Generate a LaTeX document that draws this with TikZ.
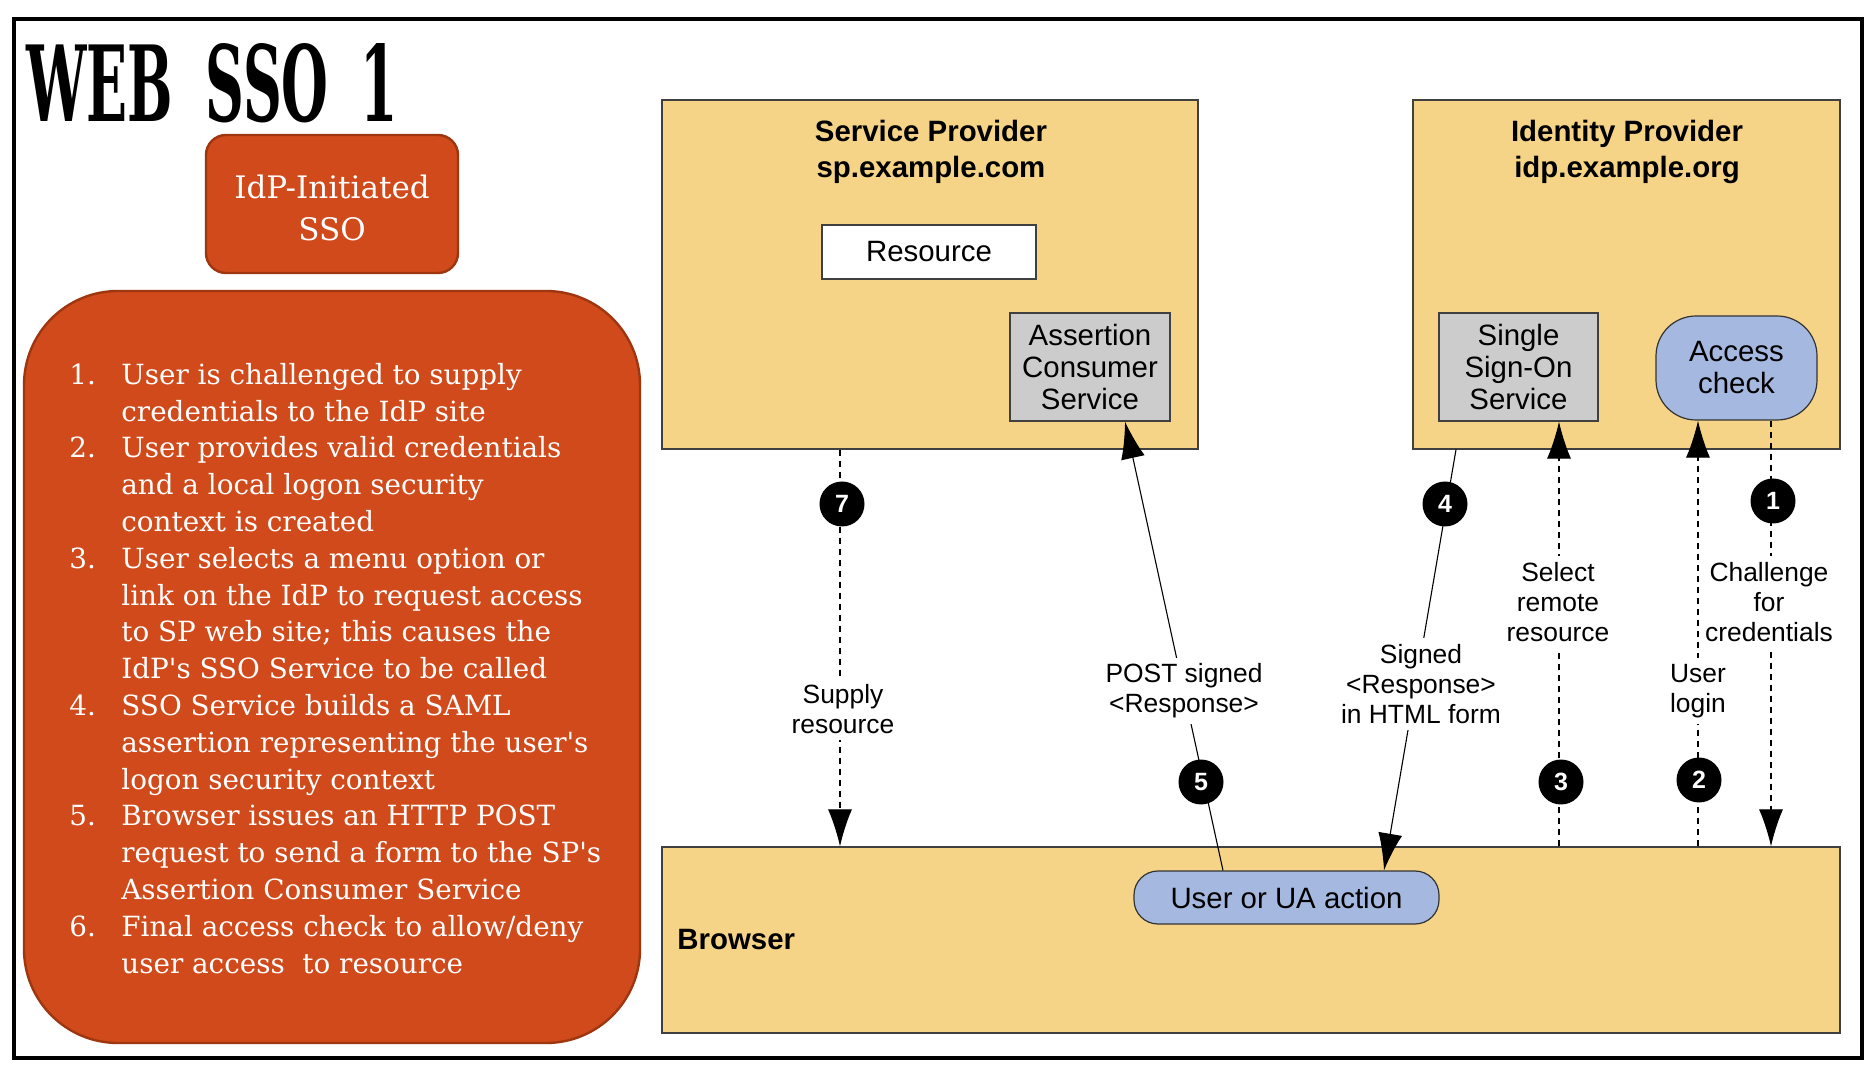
\documentclass[tikz,border=0pt]{standalone}
\usepackage{fontspec}
\setmainfont{Liberation Sans}
\newfontfamily\dvserif{DejaVu Serif}
\usetikzlibrary{arrows.meta,calc}

\definecolor{rust}{HTML}{D14A1B}
\definecolor{rustdark}{HTML}{9E3610}
\definecolor{sand}{HTML}{F6D487}
\definecolor{boxgray}{HTML}{CCCCCC}
\definecolor{lavblue}{HTML}{A5B8E0}

\begin{document}
\begin{tikzpicture}[x=0.5pt,y=-0.5pt,
  provider/.style={draw=black!75, line width=0.6pt, fill=sand, inner sep=0pt},
  boxtext/.style={font=\fontsize{14.7}{16}\selectfont},
  service/.style={boxtext, draw=black!75, line width=0.6pt, fill=boxgray, inner sep=0pt, align=center},
  pill/.style={boxtext, draw=black!80, line width=0.6pt, fill=lavblue, inner sep=0pt, align=center},
  head/.style={align=center, inner sep=0pt, font=\bfseries\fontsize{14.7}{18}\selectfont},
  lbl/.style={fill=white, inner sep=3pt, align=center, font=\fontsize{13.2}{15}\selectfont},
  stepnum/.style={circle, fill=black, minimum size=22.5pt, inner sep=0pt, text=white, font=\bfseries\fontsize{12.5}{14}\selectfont},
  flow/.style={line width=0.55pt, -{Latex[length=18.5pt,width=12pt]}},
  dflow/.style={flow, dash pattern=on 3pt off 2.5pt},
  rustbox/.style={draw=rustdark, line width=1.2pt, fill=rust},
]
\useasboundingbox (0,0) rectangle (1876,1069);
\fill[white] (0,0) rectangle (1876,1069);
\draw[line width=2pt] (14,19) rectangle (1862,1058);

% title and left panel
\node[anchor=south west, inner sep=0pt] (title) at (26,123)
  {\resizebox{186pt}{39pt}{\dvserif\bfseries WEB\hspace{0.6em}SSO\hspace{0.6em}1}};
\node[rustbox, rounded corners=10pt, minimum width=126pt, minimum height=69pt] (kind) at (332,204) {};
\node[text=white, align=center, inner sep=0pt, font=\dvserif\fontsize{15.5}{21}\selectfont] (kindtext) at (332,208)
  {IdP-Initiated\\SSO};
\node[rustbox, rounded corners=47pt, minimum width=308pt, minimum height=376pt] (steps) at (332,667) {};
\node[anchor=base west, inner sep=0pt, text=white, align=left,
  font=\dvserif\fontsize{13.9}{18.4}\selectfont] (stepstext) at (69,973)
  {\makebox[26pt][l]{1.}User is challenged to supply\\
   \hspace*{26pt}credentials to the IdP site\\
   \makebox[26pt][l]{2.}User provides valid credentials\\
   \hspace*{26pt}and a local logon security\\
   \hspace*{26pt}context is created\\
   \makebox[26pt][l]{3.}User selects a menu option or\\
   \hspace*{26pt}link on the IdP to request access\\
   \hspace*{26pt}to SP web site; this causes the\\
   \hspace*{26pt}IdP\textquotesingle s SSO Service to be called\\
   \makebox[26pt][l]{4.}SSO Service builds a SAML\\
   \hspace*{26pt}assertion representing the user\textquotesingle s\\
   \hspace*{26pt}logon security context\\
   \makebox[26pt][l]{5.}Browser issues an HTTP POST\\
   \hspace*{26pt}request to send a form to the SP\textquotesingle s\\
   \hspace*{26pt}Assertion Consumer Service\\
   \makebox[26pt][l]{6.}Final access check to allow/deny\\
   \hspace*{26pt}user access\ \ to resource};

% service provider
\node[provider, minimum width=268pt, minimum height=174.5pt] (sp) at (930,274.5) {};
\node[head] (sphead) at (931,152) {Service Provider\\sp.example.com};
\node[boxtext, draw=black!75, line width=0.6pt, fill=white, inner sep=0pt,
  minimum width=107pt, minimum height=27pt] (res) at (929,252) {Resource};
\node[service, minimum width=80pt, minimum height=54pt] (acs) at (1090,367) {Assertion\\Consumer\\Service};

% identity provider
\node[provider, minimum width=213.5pt, minimum height=174.5pt] (idp) at (1626.5,274.5) {};
\node[head] (idphead) at (1627,152) {Identity Provider\\idp.example.org};
\node[service, minimum width=79.5pt, minimum height=54pt] (sso) at (1518.5,367) {Single\\Sign-On\\Service};
\node[pill, rounded corners=20pt, minimum width=80.5pt, minimum height=52pt] (access) at (1736.5,368) {Access\\check};

% browser
\node[provider, minimum width=589pt, minimum height=93pt] (browser) at (1251,940) {};
\node[anchor=west, inner sep=0pt, font=\bfseries\fontsize{14.7}{16}\selectfont] (browserlbl) at (677,940) {Browser};
\node[pill, rounded corners=12pt, minimum width=152.5pt, minimum height=26.5pt] (ua) at (1286.5,897.5) {User or UA action};

% helper x positions
\coordinate (x7) at (840,0);
\coordinate (x3) at (1559,0);
\coordinate (x2) at (1698,0);
\coordinate (x1) at (1771,0);

% connectors
\draw[dflow] (sp.south -| x7) -- (browser.north -| x7);
\draw[flow] ([xshift=-31.75pt]ua.north) -- ([xshift=17.5pt]acs.south);
\draw[flow] ([xshift=-85.25pt]idp.south) -- ([xshift=48.75pt]ua.north);
\draw[dflow] (browser.north -| x3) -- (sso.south -| x3);
\draw[dflow] (browser.north -| x2) -- (access.south -| x2);
\draw[dflow] (access.south -| x1) -- (browser.north -| x1);

% labels
\node[lbl] (l7) at (843,709) {Supply\\resource};
\node[lbl] (l5) at (1184,691) {POST signed\\<Response>};
\node[lbl] (l4) at (1421,684) {Signed\\<Response>\\in HTML form};
\node[lbl] (l3) at (1558,602) {Select\\remote\\resource};
\node[lbl] (l2) at (1698,691) {User\\login};
\node[lbl] (l1) at (1769,602) {Challenge\\for\\credentials};

% step markers
\node[stepnum] (c7) at (842,504) {7};
\node[stepnum] (c5) at (1201,782) {5};
\node[stepnum] (c4) at (1445,504) {4};
\node[stepnum] (c3) at (1561,782) {3};
\node[stepnum] (c2) at (1699,780) {2};
\node[stepnum] (c1) at (1773,501) {1};
\end{tikzpicture}
\end{document}
